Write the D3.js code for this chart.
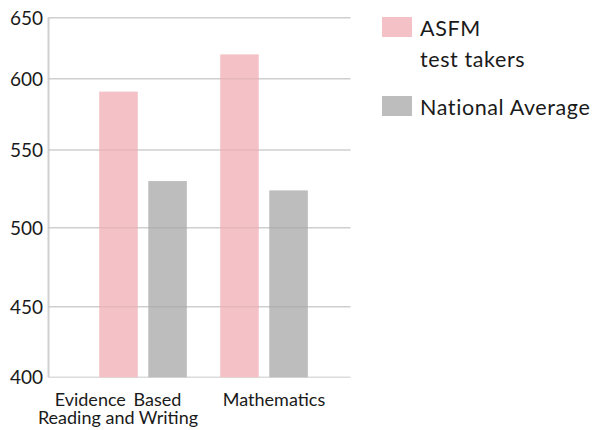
<!DOCTYPE html>
<html>
<head>
<meta charset="utf-8">
<script src="https://cdn.jsdelivr.net/npm/d3@7"></script>
<style>
  html, body { margin: 0; padding: 0; background: #fff; }
  svg { display: block; font-family: Lato, "Open Sans", sans-serif; }
</style>
</head>
<body>
<svg id="chart" width="598" height="430"></svg>
<script>
// SAT section scores
const groups = ["Evidence Based Reading and Writing", "Mathematics"];
const groupLines = [["Evidence Based", "Reading and Writing"], ["Mathematics"]];
const series = ["ASFM test takers", "National Average"];
const asfmScores = [591, 620];
const nationalScores = [530, 524];
const yTicks = [400, 450, 500, 550, 600, 650];

const seriesValues = [asfmScores, nationalScores];
const colors = ["#f4c2c6", "#bdbdbd"];

const svg = d3.select("#chart");
const plot = { left: 48.5, right: 350.5 };

// vertical positions of the score gridlines (the axis is not evenly spaced)
const gridY = [377.3, 306.7, 227.7, 150, 78.8, 17.7];
const y = d3.scaleLinear().domain(yTicks).range(gridY);

// group placement for the bars
const x0 = d3.scaleBand().domain(groups)
  .range([plot.left, plot.right])
  .paddingInner(0).paddingOuter(0.248).align(0.567);
const x1 = d3.scaleBand().domain(series)
  .range([0, x0.bandwidth()])
  .paddingInner(0.214).paddingOuter(0.34);

// category labels
const xLabel = d3.scaleBand().domain(groups).range([40, 352]);

// gridlines
svg.append("g").selectAll("line")
  .data(yTicks)
  .join("line")
  .attr("x1", plot.left).attr("x2", plot.right)
  .attr("y1", d => y(d)).attr("y2", d => y(d))
  .attr("stroke", "#dcdcdc").attr("stroke-width", 1.5);

// left axis line
svg.append("line")
  .attr("x1", plot.left).attr("x2", plot.left)
  .attr("y1", y(650)).attr("y2", y(400))
  .attr("stroke", "#d0d0d0").attr("stroke-width", 2);

// y tick labels
svg.append("g").selectAll("text")
  .data(yTicks)
  .join("text")
  .attr("x", 43).attr("y", d => y(d))
  .attr("dy", "0.36em")
  .attr("text-anchor", "end")
  .attr("font-size", 19)
  .attr("fill", "#1a1a1a")
  .text(d => d);

// bars
const barData = [];
groups.forEach((g, gi) => series.forEach((s, si) =>
  barData.push({ g, s, si, v: seriesValues[si][gi] })));

svg.append("g").selectAll("rect")
  .data(barData)
  .join("rect")
  .attr("x", d => x0(d.g) + x1(d.s))
  .attr("width", x1.bandwidth())
  .attr("y", d => y(d.v))
  .attr("height", d => y(400) - y(d.v))
  .attr("fill", d => colors[d.si]);

// faint gridlines showing through the bars
svg.append("g").selectAll("line")
  .data(yTicks.slice(1))
  .join("line")
  .attr("x1", plot.left).attr("x2", plot.right)
  .attr("y1", d => y(d)).attr("y2", d => y(d))
  .attr("stroke", "#000").attr("stroke-opacity", 0.06).attr("stroke-width", 1.5);

// category labels
const xl = svg.append("g").selectAll("text")
  .data(groups)
  .join("text")
  .attr("text-anchor", "middle")
  .attr("font-size", 18)
  .attr("fill", "#1a1a1a");
xl.selectAll("tspan")
  .data((d, i) => groupLines[i].map(t => ({ t, g: d })))
  .join("tspan")
  .attr("x", d => xLabel(d.g) + xLabel.bandwidth() / 2)
  .attr("y", (d, i) => 405.7 + i * 18)
  .attr("word-spacing", (d, i) => i === 0 && d.t === "Evidence Based" ? 3 : 0)
  .text(d => d.t);

// legend
const legendLines = [["ASFM", "test takers"], ["National Average"]];
const legendTop = [17, 96];
const lg = svg.append("g").selectAll("g")
  .data(series)
  .join("g")
  .attr("transform", (d, i) => `translate(382,${legendTop[i]})`);
lg.append("rect")
  .attr("width", 30).attr("height", 20)
  .attr("fill", (d, i) => colors[i]);
lg.each(function (d, i) {
  const t = d3.select(this).append("text")
    .attr("font-size", 21.5)
    .attr("letter-spacing", 0.6)
    .attr("fill", "#1a1a1a");
  t.selectAll("tspan")
    .data(legendLines[i])
    .join("tspan")
    .attr("x", 38)
    .attr("y", (l, j) => 18.8 + j * 31)
    .text(l => l);
});
</script>
</body>
</html>
